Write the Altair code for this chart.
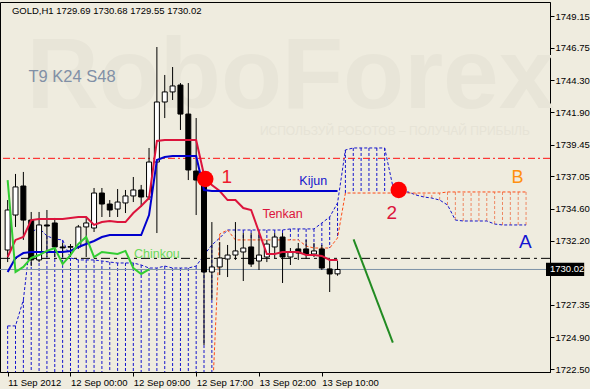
import altair as alt
import pandas as pd

# ---------------- data ----------------
opens = [1731.49, 1734.13, 1736.32, 1733.75, 1730.74, 1733.38, 1733.53, 1731.72, 1731.70, 1731.72,
         1733.23, 1733.15, 1735.79, 1734.96, 1734.58, 1735.04, 1735.57, 1736.02, 1735.49, 1738.13,
         1742.66, 1743.42, 1743.94, 1741.75, 1737.45, 1736.77, 1729.83, 1730.21, 1730.81, 1731.11,
         1731.34, 1731.72, 1730.66, 1730.96, 1731.72, 1732.47, 1730.96, 1731.57, 1731.57, 1731.19,
         1731.57, 1730.06, 1729.69]
highs = [1735.26, 1737.23, 1737.38, 1734.36, 1734.36, 1734.51, 1733.91, 1732.02, 1731.94, 1733.38,
         1733.91, 1736.17, 1736.17, 1735.26, 1736.09, 1736.02, 1737.00, 1736.40, 1739.19, 1746.81,
         1744.70, 1745.30, 1744.09, 1744.09, 1741.45, 1737.15, 1733.60, 1732.09, 1731.87, 1733.60,
         1732.77, 1732.77, 1732.77, 1732.25, 1732.77, 1732.77, 1731.64, 1732.02, 1732.25, 1732.02,
         1731.87, 1730.81, 1730.68]
lows = [1730.58, 1733.23, 1732.25, 1730.28, 1730.58, 1730.96, 1730.96, 1730.96, 1730.96, 1731.57,
        1730.96, 1732.85, 1733.98, 1733.98, 1733.98, 1734.28, 1735.11, 1734.74, 1735.26, 1732.77,
        1741.45, 1742.81, 1740.55, 1736.77, 1734.13, 1724.32, 1727.72, 1729.60, 1729.45, 1730.74,
        1729.15, 1730.21, 1729.98, 1730.58, 1730.89, 1729.00, 1730.36, 1730.74, 1730.81, 1730.96,
        1729.98, 1728.32, 1729.55]
closes = [1734.51, 1736.25, 1733.75, 1730.74, 1733.38, 1733.30, 1731.72, 1731.65, 1731.75, 1733.23,
          1733.53, 1735.79, 1734.96, 1734.51, 1735.11, 1735.57, 1736.02, 1735.49, 1738.13, 1742.66,
          1743.42, 1743.87, 1741.75, 1737.53, 1736.77, 1729.83, 1730.21, 1730.89, 1731.11, 1731.42,
          1731.64, 1730.43, 1731.11, 1731.94, 1732.47, 1730.96, 1731.34, 1731.26, 1731.19, 1731.42,
          1730.13, 1729.68, 1730.02]

tenkan = [1730.96, 1732.25, 1732.47, 1733.75, 1733.83, 1733.83, 1733.83, 1733.83, 1733.91, 1733.98,
          1733.98, 1733.38, 1733.60, 1733.68, 1733.60, 1733.60, 1734.28, 1734.81, 1735.41, 1739.72,
          1739.79, 1739.79, 1739.79, 1739.79, 1739.79, 1737.15, 1736.40, 1735.94, 1735.26, 1735.26,
          1734.66, 1734.51, 1732.85, 1731.19, 1731.19, 1731.34, 1731.34, 1731.34, 1731.11, 1731.11,
          1731.04, 1730.74, 1730.74]
kijun = [1729.83, 1730.89, 1731.26, 1731.34, 1731.34, 1731.34, 1731.34, 1731.34, 1731.42, 1731.72,
         1731.94, 1732.17, 1732.47, 1732.62, 1732.62, 1732.62, 1732.62, 1732.62, 1734.13, 1738.28,
         1738.51, 1738.58, 1738.58, 1738.58, 1738.58, 1736.02, 1735.94, 1735.94, 1735.94, 1735.94,
         1735.94, 1735.94, 1735.94, 1735.94, 1735.94, 1735.94, 1735.94, 1735.94, 1735.94, 1735.94,
         1735.94, 1735.94, 1735.94]

# Senkou spans, displayed 24 bars ahead (positions 0..66)
span_a = [1725.76, 1725.76, 1727.72, 1732.85, 1733.15, 1732.55, 1732.32, 1732.25, 1730.89, 1730.74,
          1730.74, 1730.74, 1730.66, 1730.58, 1730.51, 1730.51, 1730.51, 1730.36, 1730.13, 1730.13,
          1730.28, 1730.13, 1730.13, 1730.13, 1730.28, 1731.11, 1731.87, 1732.40, 1733.00, 1733.00,
          1733.00, 1733.00, 1733.00, 1733.00, 1733.00, 1733.00, 1733.08, 1733.08, 1733.08, 1733.08,
          1733.53, 1733.98, 1735.04, 1739.04, 1739.19, 1739.19, 1739.19, 1739.19, 1739.19, 1736.40,
          1735.87, 1735.87, 1735.64, 1735.49, 1735.41, 1735.26, 1734.89, 1733.75, 1733.68, 1733.68,
          1733.68, 1733.68, 1733.45, 1733.38, 1733.38, 1733.38, 1733.38]
span_b = [1719.00] * 26 + [1719.57, 1732.70, 1733.00, 1732.25, 1732.25, 1732.25, 1732.25, 1732.25,
          1732.25, 1732.25, 1732.25, 1732.25, 1731.79, 1731.64, 1731.64, 1731.64, 1732.40, 1735.79,
          1735.79, 1735.79, 1735.79, 1735.79, 1735.79, 1735.79, 1735.79, 1735.79, 1735.79, 1735.79,
          1735.79, 1735.79, 1735.87, 1735.87, 1735.87, 1735.87, 1735.87, 1735.87, 1735.87, 1735.87,
          1735.87, 1735.87, 1735.87]

shift = 24
tick_bars = [0, 8, 16, 24, 32, 40]
tick_texts = ["11 Sep 2012", "12 Sep 00:00", "12 Sep 09:00", "12 Sep 17:00", "13 Sep 02:00", "13 Sep 10:00"]
price_ticks = [1749.15, 1746.75, 1744.30, 1741.90, 1739.45, 1737.05, 1734.60, 1732.20,
               1727.35, 1724.90, 1722.50]
last_price = 1730.02
red_level = 1738.41
black_level = 1730.86
trend_idx = [44.04, 49.04]
trend_price = [1732.30, 1724.50]
marker_idx = [25.16, 49.79]
marker_price = [1736.85, 1736.02]

BG = "#EFECDF"
FONT = "Liberation Sans"

xscale = alt.Scale(domain=[-0.3375, 68.4125], nice=False, zero=False)
yscale = alt.Scale(domain=[1722.283, 1750.207], nice=False, zero=False)

label_expr = " : ".join(f"datum.value == {b} ? '{t}'" for b, t in zip(tick_bars, tick_texts)) + " : ''"
xaxis = alt.Axis(
    values=tick_bars, labelExpr=label_expr, orient="bottom", title=None, grid=False,
    labelAlign="left", labelBaseline="top", labelPadding=1, tickSize=4,
    labelFont=FONT, labelFontSize=9.5, labelColor="black", tickColor="black",
    domainColor="black", labelFlush=False, labelOverlap=False, labelBound=False)
yaxis = alt.Axis(
    values=price_ticks, format=".2f", orient="right", title=None, grid=False,
    labelAlign="left", labelBaseline="middle", labelPadding=1, tickSize=4,
    labelFont=FONT, labelFontSize=9.5, labelColor="black", tickColor="black",
    domainColor="black", labelFlush=False, labelOverlap=False, labelBound=False)


def X(field="idx"):
    return alt.X(f"{field}:Q", scale=xscale, axis=xaxis)


def Y(field="price"):
    return alt.Y(f"{field}:Q", scale=yscale, axis=yaxis)


n = len(opens)
candles = pd.DataFrame({"idx": list(range(n)), "open": opens, "high": highs,
                        "low": lows, "close": closes})
candles["bull"] = candles["close"] >= candles["open"]

npos = len(span_a)
cloud = pd.DataFrame({"idx": list(range(npos)), "a": span_a, "b": span_b})
cloud["kind"] = ["up" if a >= b else "down" for a, b in zip(span_a, span_b)]

lines_df = pd.DataFrame({"idx": list(range(n)), "tenkan": tenkan, "kijun": kijun})
chinkou = pd.DataFrame({"idx": [i - shift for i in range(shift, n)],
                        "price": closes[shift:]})

# ---- watermark ----
wm = alt.Chart(pd.DataFrame({"idx": [36.0], "price": [1744.5], "t": ["RoboForex"]})).mark_text(
    font=FONT, fontSize=100, fontWeight="bold", color="#E8E5D8", align="center", baseline="middle"
).encode(x=X(), y=Y(), text="t:N")
wm2 = alt.Chart(pd.DataFrame({"idx": [49.3], "price": [1740.47],
                              "t": ["ИСПОЛЬЗУЙ РОБОТОВ – ПОЛУЧАЙ ПРИБЫЛЬ"]})).mark_text(
    font=FONT, fontSize=12, color="#E6E3D6", align="center", baseline="middle"
).encode(x=X(), y=Y(), text="t:N")

# ---- cloud hatch ----
hatch = alt.Chart(cloud).mark_rule(strokeDash=[3, 2], strokeWidth=1, clip=True).encode(
    x=X(), y=Y("a"), y2="b:Q",
    color=alt.Color("kind:N", scale=alt.Scale(domain=["up", "down"], range=["#1414CC", "#EE8762"]),
                    legend=None))
span_a_line = alt.Chart(cloud).mark_line(strokeDash=[3, 2], strokeWidth=1, color="#1414CC",
                                         clip=True).encode(x=X(), y=Y("a"))
span_b_line = alt.Chart(cloud).mark_line(strokeDash=[3, 2], strokeWidth=1, color="#FF4A14",
                                         clip=True).encode(x=X(), y=Y("b"))

# ---- horizontal levels ----
levels = alt.Chart(pd.DataFrame({"price": [red_level]})).mark_rule(
    color="#FF1010", strokeDash=[7, 3, 2, 3], strokeWidth=1).encode(y=Y())
levels_b = alt.Chart(pd.DataFrame({"price": [black_level]})).mark_rule(
    color="black", strokeDash=[9, 4, 3, 4], strokeWidth=1).encode(y=Y())
bid = alt.Chart(pd.DataFrame({"price": [last_price]})).mark_rule(
    color="#7E93A8", strokeWidth=1).encode(y=Y())

# ---- candles ----
wicks = alt.Chart(candles).mark_rule(color="black", strokeWidth=1, clip=True).encode(
    x=X(), y=Y("low"), y2="high:Q")
bodies = alt.Chart(candles).mark_bar(size=5, stroke="black", strokeWidth=1, clip=True).encode(
    x=X(), y=Y("open"), y2="close:Q",
    fill=alt.Fill("bull:N", scale=alt.Scale(domain=[True, False], range=["white", "black"]),
                  legend=None))

# ---- Ichimoku lines ----
tk = alt.Chart(lines_df).mark_line(color="#DC143C", strokeWidth=2, clip=True).encode(
    x=X(), y=Y("tenkan"))
kj = alt.Chart(lines_df).mark_line(color="#0000CD", strokeWidth=2, clip=True).encode(
    x=X(), y=Y("kijun"))
ck = alt.Chart(chinkou).mark_line(color="#32CD32", strokeWidth=2, clip=True).encode(
    x=X(), y=Y())

# ---- annotations ----
trend = alt.Chart(pd.DataFrame({"idx": trend_idx, "price": trend_price})).mark_line(
    color="#228B22", strokeWidth=2).encode(x=X(), y=Y())
markers = alt.Chart(pd.DataFrame({"idx": marker_idx, "price": marker_price})).mark_point(
    filled=True, shape="circle", size=270, color="#FF0000", opacity=1).encode(x=X(), y=Y())

labels = pd.DataFrame({
    "idx": [27.9, 48.9, 64.9, 65.9, 38.9, 35.0, 19.0, 8.2],
    "price": [1737.0, 1734.28, 1736.92, 1732.09, 1736.70, 1734.21, 1731.19, 1744.55],
    "t": ["1", "2", "B", "A", "Kijun", "Tenkan", "Chinkou", "T9 K24 S48"],
    "c": ["#EE1C2E", "#DC143C", "#FF9010", "#1414D2", "#1414CC", "#DC143C", "#6CD95A", "#8190A6"],
    "s": [19, 19, 18, 19, 12.5, 12.5, 12.5, 16.5],
})
txt = alt.Chart(labels).mark_text(font=FONT, align="center", baseline="middle").encode(
    x=X(), y=Y(), text="t:N", color=alt.Color("c:N", scale=None),
    size=alt.Size("s:Q", scale=None))

title = alt.Chart(pd.DataFrame({"idx": [0.54], "price": [1749.53],
                                "t": ["GOLD,H1  1729.69 1730.68 1729.55 1730.02"]})).mark_text(
    font=FONT, fontSize=9.5, color="black", align="left", baseline="middle").encode(
    x=X(), y=Y(), text="t:N")

# ---- current price box on the axis ----
box = alt.Chart(pd.DataFrame({"idx": [68.54], "idx2": [73.4], "price": [last_price + 0.5],
                              "price2": [last_price - 0.5]})).mark_rect(color="black").encode(
    x=X(), x2="idx2:Q", y=Y(), y2="price2:Q")
box_t = alt.Chart(pd.DataFrame({"idx": [69.05], "price": [last_price], "t": ["1730.02"]})).mark_text(
    font=FONT, fontSize=9.5, color="white", align="left", baseline="middle").encode(
    x=X(), y=Y(), text="t:N")

chart = alt.layer(
    wm, wm2, hatch, span_a_line, span_b_line, levels, levels_b, bid,
    wicks, bodies, tk, kj, ck, trend, markers, txt, title, box, box_t
).resolve_scale(color="independent").properties(
    width=550, height=370,
    padding={"left": 0, "top": 2, "right": 40, "bottom": 17},
    autosize=alt.AutoSizeParams(type="none"),
    background=BG,
).configure_view(stroke="black", strokeWidth=1, fill=BG)

chart.save("out.html", embed_options={"renderer": "svg", "actions": False})
